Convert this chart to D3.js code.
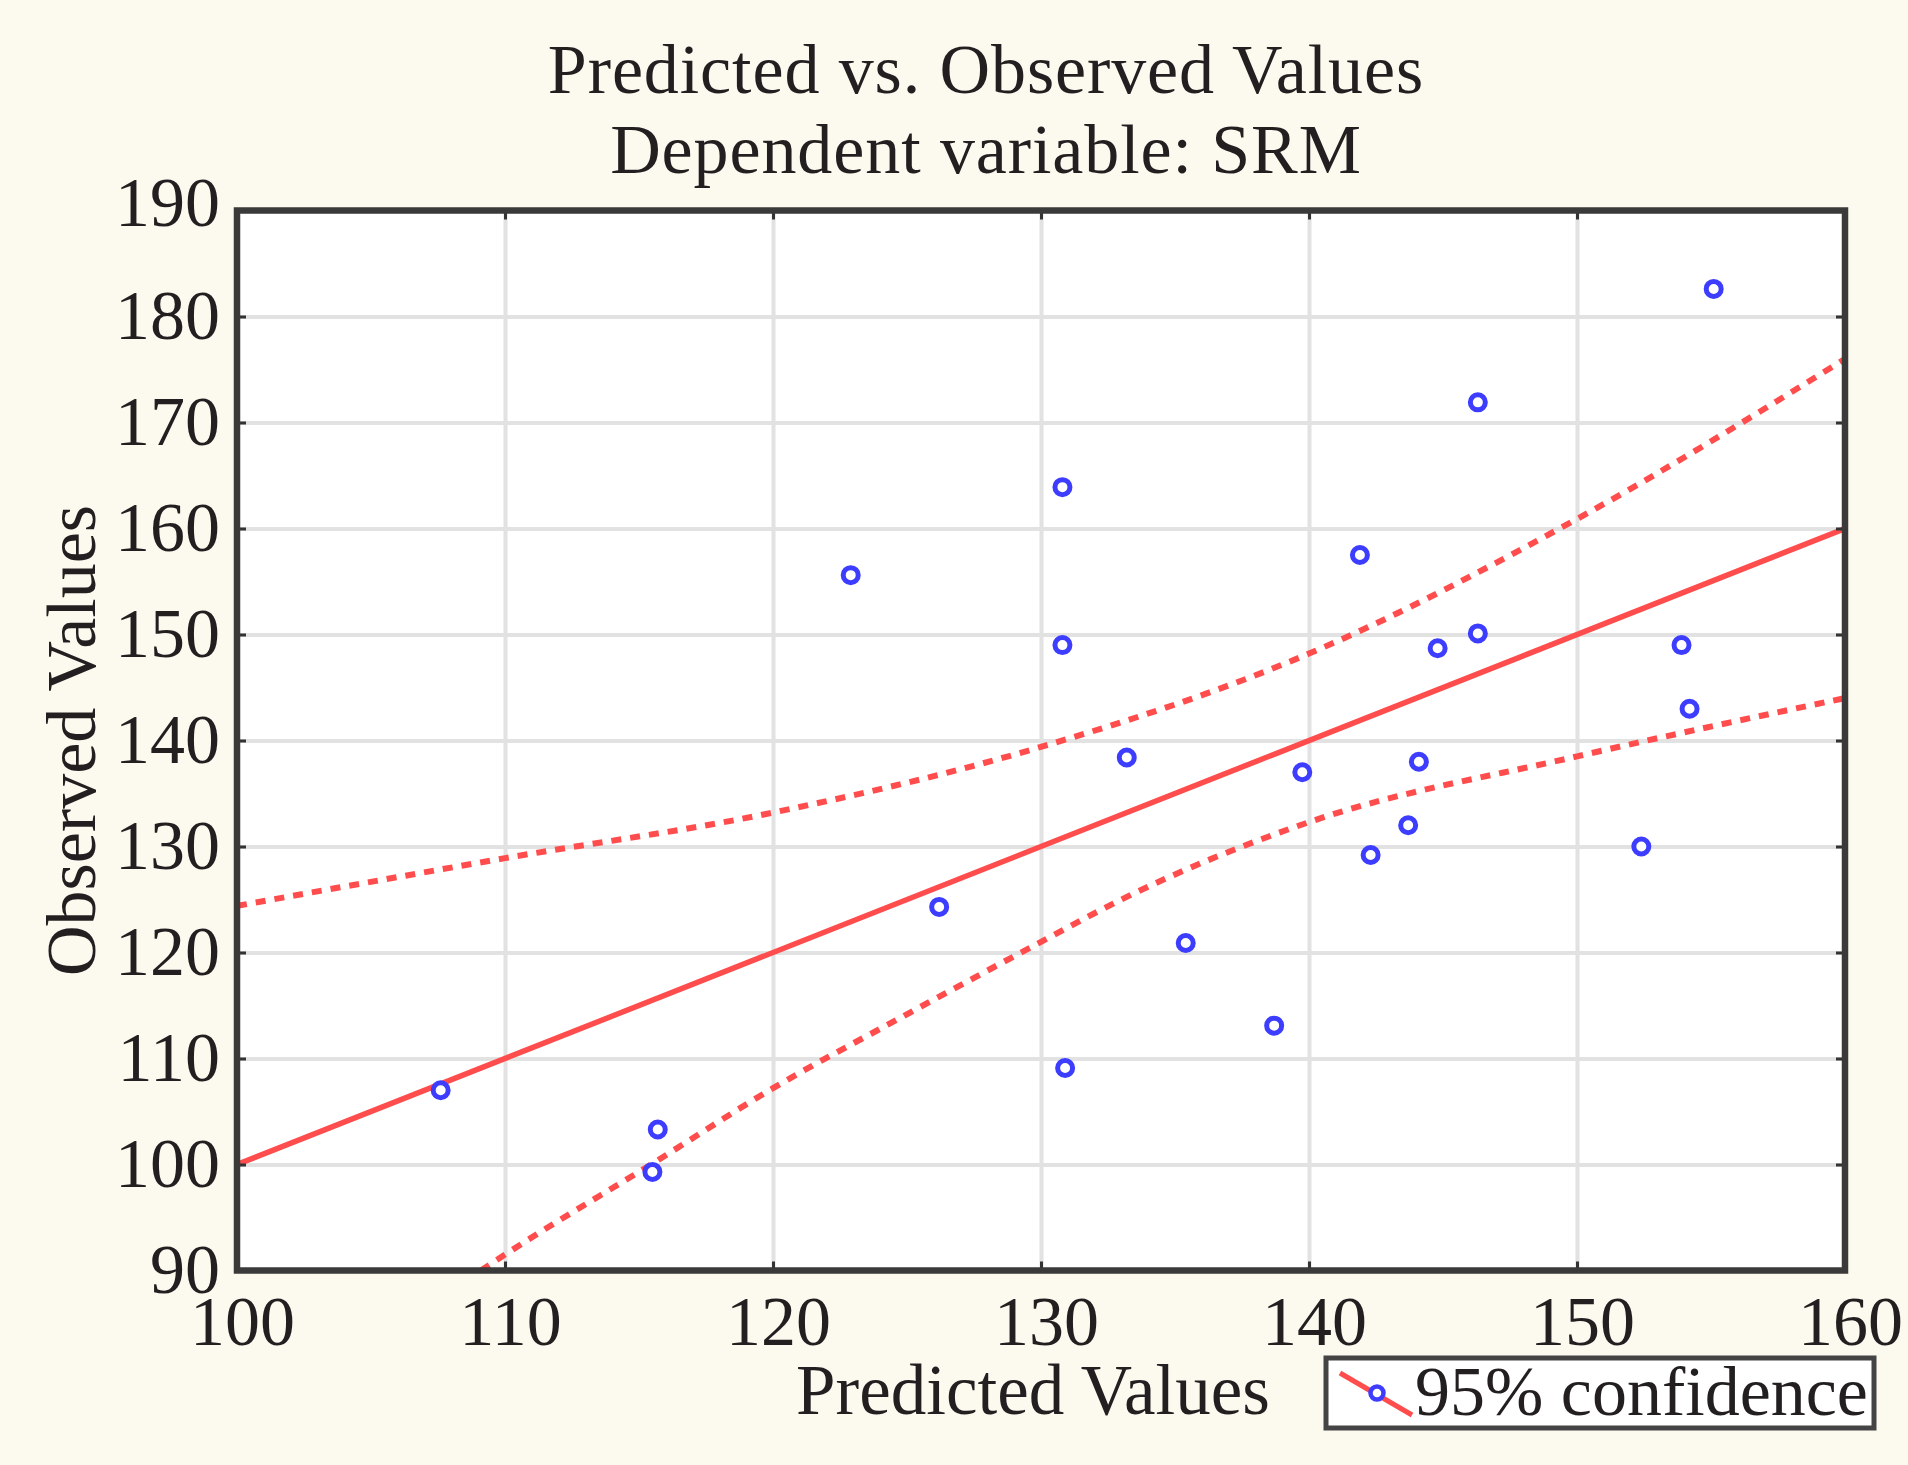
<!DOCTYPE html>
<html>
<head>
<meta charset="utf-8">
<script src="https://cdn.jsdelivr.net/npm/d3@7"></script>
<style>
body { margin: 0; background: #fcf9ef; }
svg { display: block; }
text { font-family: "Liberation Serif", "Times New Roman", serif; fill: #231f20; }
</style>
</head>
<body>
<svg id="chart" width="1908" height="1465"></svg>
<script>
const titleLines = ['Predicted vs. Observed Values', 'Dependent variable: SRM'];
const xLabel = 'Predicted Values';
const yLabel = 'Observed Values';
const legendLabel = '95% confidence';

const xTicks = [100, 110, 120, 130, 140, 150, 160];
const yTicks = [90, 100, 110, 120, 130, 140, 150, 160, 170, 180, 190];

// scatter: predicted (x) vs observed (y)
const predicted = [155.1, 146.3, 130.8, 122.9, 141.9, 130.8, 144.8, 146.3, 153.9, 154.2, 133.2, 139.75,
                   144.1, 143.7, 142.3, 152.4, 126.2, 135.4, 138.7, 130.9, 107.6, 115.7, 115.5];
const observed  = [182.6, 171.9, 163.9, 155.6, 157.5, 149.0, 148.7, 150.1, 149.0, 143.0, 138.4, 137.0,
                   138.0, 132.0, 129.2, 130.0, 124.3, 120.9, 113.1, 109.1, 107.0, 103.3, 99.3];

// fitted line and 95% band
const fitX = [100, 160];
const fitY = [100, 160];
const upperX = [100, 110, 120, 130, 140, 150, 160];
const upperY = [124.4, 128.9, 133.2, 139.4, 148.2, 160.9, 176.0];
const lowerX = [109.1, 110, 115.7, 120, 124.8, 130, 133, 140, 150, 160];
const lowerY = [90, 91.5, 100.4, 107.2, 113.9, 121.0, 125.0, 132.3, 138.5, 144.0];

const fontSize = 70;
const red = '#ff4d4d';
const blue = '#3d3dff';

const svg = d3.select('#chart');

const x = d3.scaleLinear().domain([100, 160]).range([237, 1845]);
const y = d3.scaleLinear().domain([90, 190]).range([1270.5, 210.5]);
const plotW = x(160) - x(100);
const plotH = y(90) - y(190);

// titles
svg.selectAll('.title')
    .data(titleLines)
    .enter()
    .append('text')
    .attr('class', 'title')
    .attr('x', 986)
    .attr('y', (_, i) => 93 + i * 80)
    .attr('text-anchor', 'middle')
    .style('font-size', fontSize + 'px')
    .style('letter-spacing', '0.9px')
    .text(d => d);

// plot background
svg.append('rect')
    .attr('x', x(100))
    .attr('y', y(190))
    .attr('width', plotW)
    .attr('height', plotH)
    .style('fill', '#ffffff');

// grid
svg.append('g')
    .attr('class', 'grid')
    .attr('transform', `translate(0,${y(90)})`)
    .call(d3.axisBottom(x).tickValues(xTicks).tickSize(-plotH).tickFormat(''));
svg.append('g')
    .attr('class', 'grid')
    .attr('transform', `translate(${x(100)},0)`)
    .call(d3.axisLeft(y).tickValues(yTicks).tickSize(-plotW).tickFormat(''));
svg.selectAll('.grid .domain').remove();
svg.selectAll('.grid line')
    .style('stroke', '#e2e2e2')
    .style('stroke-width', 4);

svg.append('defs')
    .append('clipPath')
    .attr('id', 'plot-clip')
    .append('rect')
    .attr('x', x(100))
    .attr('y', y(190))
    .attr('width', plotW)
    .attr('height', plotH);

const plot = svg.append('g').attr('clip-path', 'url(#plot-clip)');
const line = d3.line()
    .x(d => x(d[0]))
    .y(d => y(d[1]))
    .curve(d3.curveMonotoneX);

plot.append('path')
    .datum(d3.zip(fitX, fitY))
    .attr('d', line)
    .style('fill', 'none')
    .style('stroke', red)
    .style('stroke-width', 5.5);

plot.selectAll('.band')
    .data([d3.zip(upperX, upperY), d3.zip(lowerX, lowerY)])
    .enter()
    .append('path')
    .attr('class', 'band')
    .attr('d', line)
    .style('fill', 'none')
    .style('stroke', red)
    .style('stroke-width', 6)
    .style('stroke-dasharray', '10,9');

plot.selectAll('.pt')
    .data(d3.zip(predicted, observed))
    .enter()
    .append('circle')
    .attr('class', 'pt')
    .attr('cx', d => x(d[0]))
    .attr('cy', d => y(d[1]))
    .attr('r', 7.5)
    .style('fill', '#ffffff')
    .style('stroke', blue)
    .style('stroke-width', 5);

// inner tick marks on all four sides
const tickLen = 9;
svg.append('g').attr('class', 'ticks')
    .attr('transform', `translate(0,${y(90)})`)
    .call(d3.axisBottom(x).tickValues(xTicks).tickSize(-tickLen).tickFormat(''));
svg.append('g').attr('class', 'ticks')
    .attr('transform', `translate(0,${y(190)})`)
    .call(d3.axisTop(x).tickValues(xTicks).tickSize(-tickLen).tickFormat(''));
svg.append('g').attr('class', 'ticks')
    .attr('transform', `translate(${x(100)},0)`)
    .call(d3.axisLeft(y).tickValues(yTicks).tickSize(-tickLen).tickFormat(''));
svg.append('g').attr('class', 'ticks')
    .attr('transform', `translate(${x(160)},0)`)
    .call(d3.axisRight(y).tickValues(yTicks).tickSize(-tickLen).tickFormat(''));
svg.selectAll('.ticks .domain').remove();
svg.selectAll('.ticks line')
    .style('stroke', '#333')
    .style('stroke-width', 3);

// frame
svg.append('rect')
    .attr('x', x(100))
    .attr('y', y(190))
    .attr('width', plotW)
    .attr('height', plotH)
    .style('fill', 'none')
    .style('stroke', '#3a3a3a')
    .style('stroke-width', 6.5);

// tick labels
const xAxis = svg.append('g')
    .attr('class', 'labels')
    .attr('transform', `translate(5,${y(90)})`)
    .call(d3.axisBottom(x).tickValues(xTicks).tickSize(0).tickPadding(25));
const yAxis = svg.append('g')
    .attr('class', 'labels')
    .attr('transform', `translate(${x(100)},0)`)
    .call(d3.axisLeft(y).tickValues(yTicks).tickSize(0).tickPadding(17));
svg.selectAll('.labels .domain').remove();
svg.selectAll('.labels text')
    .attr('fill', null)
    .style('font-family', '"Liberation Serif", serif')
    .style('font-size', fontSize + 'px');
yAxis.selectAll('text')
    .attr('dy', d => d === 190 ? '0.21em' : '0.32em');

// axis titles
svg.append('text')
    .attr('x', 1033)
    .attr('y', 1414)
    .attr('text-anchor', 'middle')
    .style('font-size', '71px')
    .text(xLabel);
svg.append('text')
    .attr('transform', `translate(95,${(y(90) + y(190)) / 2}) rotate(-90)`)
    .attr('text-anchor', 'middle')
    .style('font-size', '70px')
    .text(yLabel);

// legend
const legend = svg.append('g');
legend.append('rect')
    .attr('x', 1326)
    .attr('y', 1358)
    .attr('width', 548)
    .attr('height', 70)
    .style('fill', '#ffffff')
    .style('stroke', '#444')
    .style('stroke-width', 5);
legend.append('line')
    .attr('x1', 1340).attr('y1', 1373)
    .attr('x2', 1412).attr('y2', 1415)
    .style('stroke', red)
    .style('stroke-width', 5);
legend.append('circle')
    .attr('cx', 1377)
    .attr('cy', 1393)
    .attr('r', 6.5)
    .style('fill', '#ffffff')
    .style('stroke', blue)
    .style('stroke-width', 4.5);
legend.append('text')
    .attr('x', 1415)
    .attr('y', 1415)
    .style('font-size', fontSize + 'px')
    .text(legendLabel);
</script>
</body>
</html>
